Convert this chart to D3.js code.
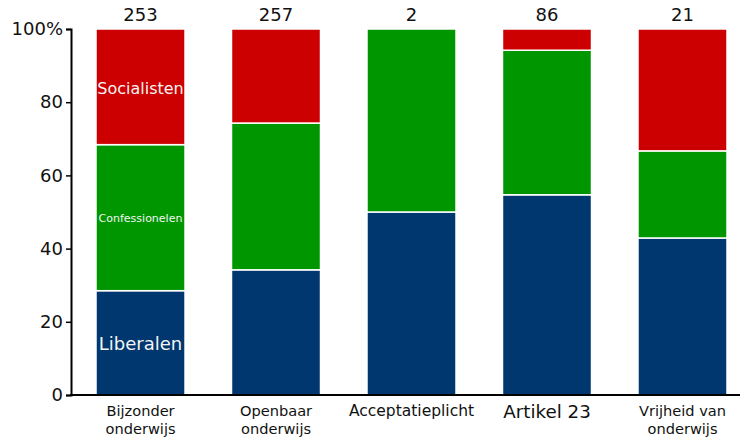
<!DOCTYPE html>
<html>
<head>
<meta charset="UTF-8">
<style>
  body { margin: 0; background: #fff; }
  svg { display: block; font-family: "DejaVu Sans", Verdana, sans-serif; }
</style>
</head>
<body>
<svg></svg>
<script src="https://d3js.org/d3.v7.min.js"></script>
<script>

let width = 740, height = 437;

// data
let categories = ["Bijzonder onderwijs", "Openbaar onderwijs", "Acceptatieplicht", "Artikel 23", "Vrijheid van onderwijs"];
let labelLines = [["Bijzonder", "onderwijs"], ["Openbaar", "onderwijs"], ["Acceptatieplicht"], ["Artikel 23"], ["Vrijheid van", "onderwijs"]];
let totals = [253, 257, 2, 86, 21];
let liberalen = [28.5, 34.2, 50, 54.7, 42.9];
let confessionelen = [39.9, 40.1, 50, 39.5, 23.8];
let socialisten = [31.6, 25.7, 0, 5.8, 33.3];
let yTicks = [0, 20, 40, 60, 80, 100];

let series = ["Liberalen", "Confessionelen", "Socialisten"];
let colors = ["#00376f", "#009600", "#cc0000"];

let table = categories.map((c, i) => ({
  cat: c,
  Liberalen: liberalen[i],
  Confessionelen: confessionelen[i],
  Socialisten: socialisten[i]
}));

let svg = d3.select("svg").attr("width", width).attr("height", height);

let x = d3.scaleBand().domain(categories).range([96, 727]).paddingInner(0.343).paddingOuter(0);
let y = d3.scaleLinear().domain([0, 100]).range([395, 29]);
let color = d3.scaleOrdinal().domain(series).range(colors);

let stacked = d3.stack().keys(series)(table);

// bars
svg.append("g")
  .selectAll("g")
  .data(stacked)
  .enter().append("g")
    .attr("fill", d => color(d.key))
  .selectAll("rect")
  .data(d => d.filter(s => s[1] - s[0] > 0))
  .enter().append("rect")
    .attr("x", d => x(d.data.cat))
    .attr("width", x.bandwidth())
    .attr("y", d => y(d[1]))
    .attr("height", d => y(d[0]) - y(d[1]))
    .attr("stroke", "#fff")
    .attr("stroke-width", 1.5);

// series labels inside the first bar
let inner = [
  { key: "Liberalen", size: 18, dy: 1 },
  { key: "Confessionelen", size: 11, dy: 0 },
  { key: "Socialisten", size: 16, dy: 2 }
];
inner.forEach((l, k) => {
  let seg = stacked[k][0];
  svg.append("text")
    .attr("x", x(categories[0]) + x.bandwidth() / 2)
    .attr("y", y((seg[0] + seg[1]) / 2) + l.dy)
    .attr("dy", "0.35em")
    .attr("text-anchor", "middle")
    .attr("fill", "#f4f4f4")
    .style("font-size", l.size + "px")
    .text(l.key);
});

// totals on top
svg.append("g")
  .selectAll("text")
  .data(totals)
  .enter().append("text")
    .attr("x", (d, i) => x(categories[i]) + x.bandwidth() / 2)
    .attr("y", 21)
    .attr("text-anchor", "middle")
    .style("font-size", "18px")
    .attr("fill", "#111")
    .text(d => d);

// y axis
let yAxis = svg.append("g")
  .attr("transform", "translate(71,0)")
  .call(d3.axisLeft(y).tickValues(yTicks).tickSize(5).tickPadding(3)
    .tickFormat(d => d == 100 ? "100%" : d));
yAxis.select(".domain").attr("stroke", "#000").attr("stroke-width", 2);
yAxis.selectAll(".tick line").attr("stroke", "#000").attr("stroke-width", 1.5);
yAxis.selectAll(".tick text")
  .style("font-size", "18px")
  .style("font-family", "DejaVu Sans, Verdana, sans-serif")
  .attr("fill", "#111");

// baseline
svg.append("line")
  .attr("x1", 70).attr("x2", width)
  .attr("y1", y(0)).attr("y2", y(0))
  .attr("stroke", "#000").attr("stroke-width", 2);

// x labels
let xl = svg.append("g")
  .selectAll("text")
  .data(labelLines)
  .enter().append("text")
    .attr("text-anchor", "middle")
    .attr("fill", "#111")
    .style("font-size", (d, i) => i == 3 ? "18.3px" : (i == 2 ? "15.5px" : "14.6px"))
    .attr("transform", (d, i) => "translate(" + (x(categories[i]) + x.bandwidth() / 2) + "," + (i == 3 ? 418 : 416) + ")");

xl.selectAll("tspan")
  .data(d => d)
  .enter().append("tspan")
    .attr("x", 0)
    .attr("y", (d, j) => j * 18)
    .text(d => d);

</script>
</body>
</html>
